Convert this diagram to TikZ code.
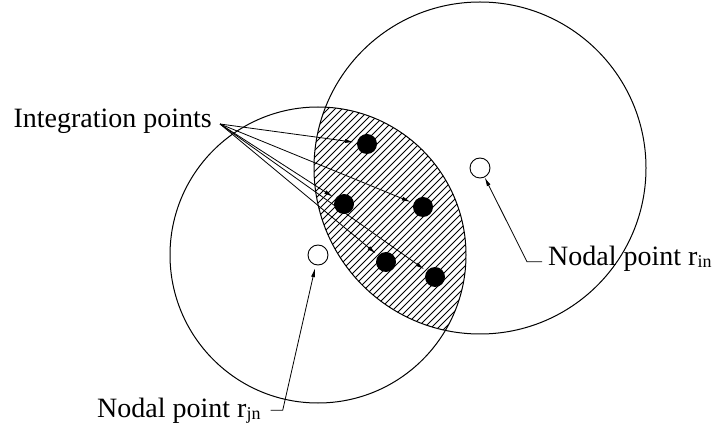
\documentclass[tikz,border=0pt]{standalone}
\usepackage{fontspec}
\setmainfont{Liberation Serif}
\usetikzlibrary{positioning, arrows.meta}
\newcommand{\subtxt}[1]{\raisebox{-2pt}{\fontsize{18}{18}\selectfont #1}}

\begin{document}
\begin{tikzpicture}[x=1pt, y=-1pt,
  tag/.style={inner sep=0pt, font=\fontsize{28}{32}\selectfont},
  ipoint/.style={circle, fill=black, minimum size=20pt, inner sep=0pt},
  npoint/.style={circle, draw, fill=white, line width=0.9pt, minimum size=20pt, inner sep=0pt},
  zone/.style={line width=1pt},
  hatch/.style={line width=0.8pt},
  arrow/.style={-{Latex[length=9pt,width=4pt]}, line width=0.8pt, shorten >=3pt},
  leader/.style={-{Latex[length=9pt,width=4pt]}, line width=0.8pt}
]
  \useasboundingbox (0,0) rectangle (715,430);

  \begin{scope}
    \clip (480,168) circle[radius=166pt];
    \clip (318,255) circle[radius=148pt];
    \foreach \c in {430,437,...,790}
      \draw[hatch] (\c-340,340) -- (\c-90,90);
  \end{scope}
  \draw[zone] (480,168) circle[radius=166pt];
  \draw[zone] (318,255) circle[radius=148pt];

  \node[npoint] (nin) at (480,168) {};
  \node[npoint] (njn) at (318,255) {};

  \node[ipoint] (ipa) at (367,144) {};
  \node[ipoint] (ipb) at (344,204) {};
  \node[ipoint] (ipc) at (423,207) {};
  \node[ipoint] (ipd) at (386,262) {};
  \node[ipoint] (ipe) at (435,277) {};

  \node[tag, anchor=base east] (intlabel) at (212,128) {Integration points};
  \coordinate (src) at (220,124);
  \node[tag, anchor=base west] (rinlabel) at (548,266) {Nodal point r\subtxt{in}};
  \node[tag, anchor=base west] (rjnlabel) at (97,417) {Nodal point r\subtxt{jn}};

  \draw[arrow] (src) -- (ipa);
  \draw[arrow] (src) -- (ipb);
  \draw[arrow] (src) -- (ipc);
  \draw[arrow] (src) -- (ipd);
  \draw[arrow] (src) -- (ipe);

  \draw[leader] ([xshift=-6pt,yshift=-2.5pt]rinlabel.west) -- ++(-15,0) -- (nin);
  \draw[leader, shorten >=3pt] ([xshift=10pt]rjnlabel.east) -- ++(12,0) -- (njn);
\end{tikzpicture}
\end{document}
